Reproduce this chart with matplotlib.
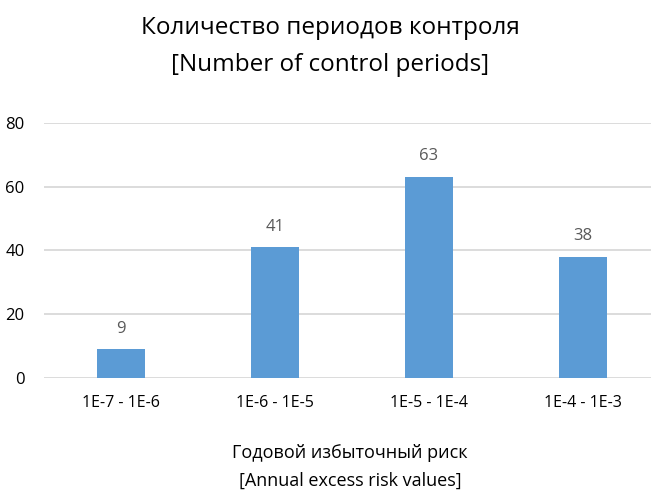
import matplotlib.pyplot as plt
from matplotlib import font_manager

# data
categories = ['1E-7 - 1E-6', '1E-6 - 1E-5', '1E-5 - 1E-4', '1E-4 - 1E-3']
counts = [9, 41, 63, 38]
yticks = [0, 20, 40, 60, 80]

names = {f.name for f in font_manager.fontManager.ttflist}
fam = ['Liberation Sans Narrow'] if 'Liberation Sans Narrow' in names else []
plt.rcParams['font.family'] = fam + ['Open Sans', 'DejaVu Sans']

fig = plt.figure(figsize=(6.51, 4.93), dpi=100)
ax = fig.add_axes([44 / 651, 0.2333, 616 / 651, 0.5172])

x = range(len(categories))
bars = ax.bar(x, counts, width=0.31, color='#5B9BD5', zorder=3)
for b, v in zip(bars, counts):
    ax.text(b.get_x() + b.get_width() / 2, v + 4, str(v), ha='center', va='bottom',
            fontsize=12, color='#595959')

ax.set_xlim(-0.5, 3.5)
ax.set_ylim(0, 80)
ax.set_yticks(yticks)
ax.set_xticks(list(x))
ax.set_xticklabels(categories, fontsize=11.5, color='black')
ax.tick_params(axis='y', labelsize=12, labelcolor='black', length=0, pad=14)
ax.tick_params(axis='x', length=0, pad=12)
ax.grid(axis='y', color='#d9d9d9', linewidth=1.3, zorder=0)
for s in ax.spines.values():
    s.set_visible(False)

fig.text(0.507, 0.943, 'Количество периодов контроля', ha='center', va='center', fontsize=17.5)
fig.text(0.507, 0.868, '[Number of control periods]', ha='center', va='center', fontsize=17.5)
fig.text(0.538, 0.081, 'Годовой избыточный риск', ha='center', va='center', fontsize=13)
fig.text(0.538, 0.025, '[Annual excess risk values]', ha='center', va='center', fontsize=13)

fig.savefig('out.png', dpi=100)
